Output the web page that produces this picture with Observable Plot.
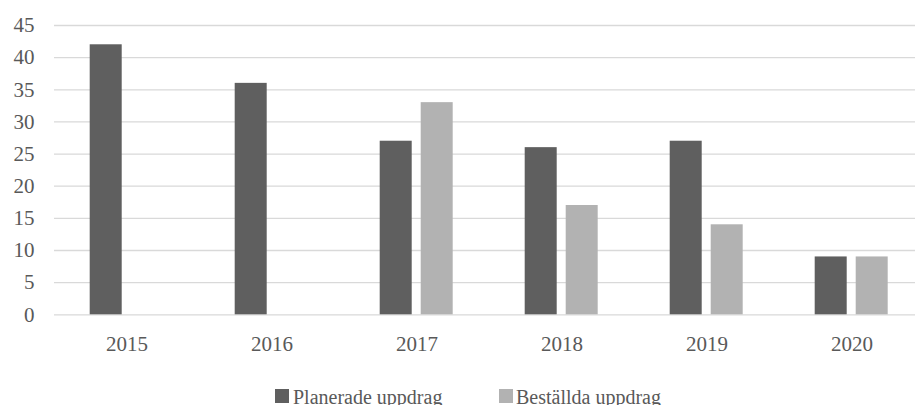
<!DOCTYPE html>
<html>
<head>
<meta charset="utf-8">
<script src="https://cdn.jsdelivr.net/npm/d3@7"></script>
<script src="https://cdn.jsdelivr.net/npm/@observablehq/plot@0.6"></script>
<style>
  html, body { margin: 0; padding: 0; background: #fff; overflow: hidden; width: 915px; height: 405px; }
  #wrap { position: relative; width: 915px; height: 405px; font-family: "Liberation Serif", serif; color: #595959; overflow: hidden; }
  .sw { position: absolute; width: 14px; height: 14px; }
  .lt { position: absolute; font-size: 20px; line-height: 20px; white-space: nowrap; color: #595959; font-family: "Liberation Serif", serif; }
  #wrap svg { max-width: none !important; }
  #wrap svg text { font-family: "Liberation Serif", serif !important; }
</style>
</head>
<body>
<div id="wrap"></div>
<script>
const years = ["2015", "2016", "2017", "2018", "2019", "2020"];
const seriesNames = ["Planerade uppdrag", "Beställda uppdrag"];
const planerade = [42, 36, 27, 26, 27, 9];
const bestallda = [null, null, 33, 17, 14, 9];
const seriesColors = ["#5f5f5f", "#b2b2b2"];
const yTicks = [0, 5, 10, 15, 20, 25, 30, 35, 40, 45];

const data = [];
years.forEach((yr, i) => {
  data.push({year: yr, series: seriesNames[0], value: planerade[i]});
  data.push({year: yr, series: seriesNames[1], value: bestallda[i]});
});

const chart = Plot.plot({
  width: 925,
  height: 383,
  marginLeft: 53.3,
  marginRight: 0,
  marginTop: 25,
  marginBottom: 68.7,
  style: {fontSize: "21px", color: "#595959", background: "transparent", maxWidth: "none"},
  facet: {data: data, x: "year", marginRight: 0},
  fx: {domain: years, padding: 0, axis: "bottom", tickSize: 0, tickPadding: 21, label: null},
  x: {domain: seriesNames, axis: null, paddingInner: 0.225, paddingOuter: 0.856},
  y: {domain: [0, 45], ticks: yTicks, tickSize: 0, tickPadding: 20, label: null, axis: "left"},
  color: {domain: seriesNames, range: seriesColors},
  marks: [
    Plot.ruleY(yTicks, {stroke: "#d9d9d9", strokeWidth: 1.3, strokeOpacity: 1}),
    Plot.barY(data, {x: "series", y: "value", fill: "series", inset: 0})
  ]
});
chart.style.position = "absolute";
chart.style.left = "0px";
chart.style.top = "0px";
chart.style.maxWidth = "none";
chart.style.width = "925px";
chart.style.height = "383px";
const wrap = document.getElementById("wrap");
wrap.appendChild(chart);

const legendPos = [{sq: 275, tx: 293}, {sq: 499, tx: 516}];
seriesNames.forEach((name, i) => {
  const sw = document.createElement("div");
  sw.className = "sw";
  sw.style.background = seriesColors[i];
  sw.style.left = legendPos[i].sq + "px";
  sw.style.top = "389px";
  wrap.appendChild(sw);
  const t = document.createElement("div");
  t.className = "lt";
  t.textContent = name;
  t.style.left = legendPos[i].tx + "px";
  t.style.top = "387px";
  wrap.appendChild(t);
});
</script>
</body>
</html>
